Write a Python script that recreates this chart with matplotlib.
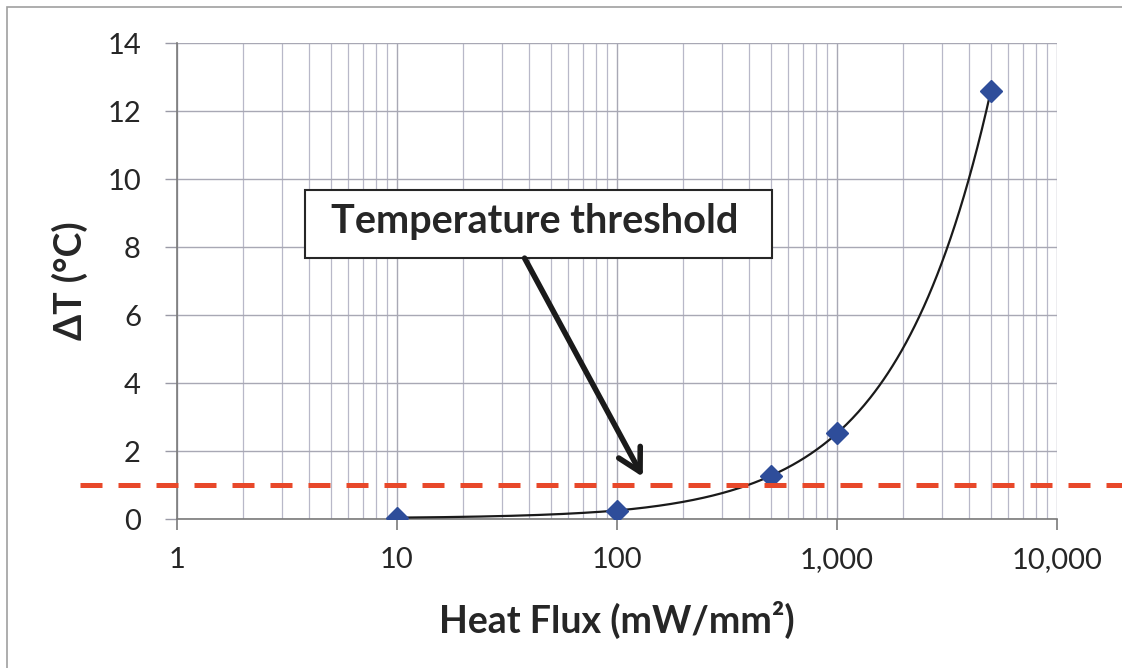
import numpy as np
import matplotlib
matplotlib.use("Agg")
import matplotlib.pyplot as plt
from matplotlib.patches import Rectangle

# Data
heat_flux = [10, 100, 500, 1000, 5000]          # mW/mm^2
delta_t = [0.04, 0.25, 1.27, 2.52, 12.58]        # degC
threshold = 1.0
x_ticks = [1, 10, 100, 1000, 10000]
x_tick_labels = ["1", "10", "100", "1,000", "10,000"]
y_ticks = [0, 2, 4, 6, 8, 10, 12, 14]

plt.rcParams['font.family'] = ['Lato', 'DejaVu Sans']

fig = plt.figure(figsize=(11.22, 6.68), dpi=100)
ax = fig.add_axes([177/1122, 1-519/668, 880/1122, 476/668])

# outer frame
fig.patches.append(Rectangle((7/1122, -0.01), 1.2, 1-7/668+0.01, transform=fig.transFigure,
                             fill=False, edgecolor='#a0a0a0', linewidth=1.2))

ax.set_xscale('log')
ax.set_xlim(1, 10000)
ax.set_ylim(0, 14)

# smooth connecting line (rendered densely between measured points)
xs = np.geomspace(heat_flux[0], heat_flux[-1], 400)
ys = np.interp(xs, heat_flux, delta_t)
ax.plot(xs, ys, color='#1a1a1a', linewidth=1.6, zorder=3)
ax.plot(heat_flux, delta_t, linestyle='none', marker='D', markersize=11,
        color='#2e4d9a', markeredgecolor='#2e4d9a', zorder=4)

# threshold line, extends beyond axes
ax.axhline(threshold, xmin=-0.11, xmax=1.08, color='#e8482a', linewidth=3.6,
           dashes=(4.4, 3.2), clip_on=False, zorder=5)

ax.set_xticks(x_ticks)
ax.set_xticklabels(x_tick_labels)
ax.set_yticks(y_ticks)
ax.xaxis.set_minor_locator(matplotlib.ticker.LogLocator(base=10, subs=np.arange(2, 10)))
ax.xaxis.set_minor_formatter(matplotlib.ticker.NullFormatter())

ax.grid(True, which='major', axis='both', color='#a8a8b4', linewidth=1.0)
ax.grid(True, which='minor', axis='x', color='#b8b8c8', linewidth=0.9)
ax.set_axisbelow(True)

for s in ['top', 'right']:
    ax.spines[s].set_visible(False)
for s in ['left', 'bottom']:
    ax.spines[s].set_color('#7a7a7a')
    ax.spines[s].set_linewidth(1.2)

ax.tick_params(axis='y', which='major', length=9, width=1, color='#9a9aa6', pad=17,
               labelsize=21, labelcolor='#262626')
ax.tick_params(axis='x', which='major', length=8, width=1.2, color='#7a7a7a', pad=12,
               labelsize=21, labelcolor='#262626')
ax.tick_params(axis='x', which='minor', length=0)

ax.set_xlabel('Heat Flux (mW/mm²)', fontsize=27, fontweight='bold', color='#262626', labelpad=20)
ax.set_ylabel('ΔT (°C)', fontsize=27, fontweight='bold', color='#262626', labelpad=14)

# annotation box, label and arrow
ax.add_patch(Rectangle((0.1455, 0.548), 0.5305, 0.143, transform=ax.transAxes,
                       facecolor='white', edgecolor='#262626', linewidth=1.5, zorder=6))
ax.text(0.406, 0.601, 'Temperature threshold', transform=ax.transAxes,
        fontsize=28.5, fontweight='bold', color='#262626', ha='center', va='baseline', zorder=7)
ax.annotate('', xy=(131, 1.24), xytext=(0.395, 0.548), textcoords='axes fraction',
            arrowprops=dict(arrowstyle='->,head_length=1.0,head_width=0.55', color='#1a1a1a',
                            linewidth=4, shrinkA=0, shrinkB=0, mutation_scale=16),
            zorder=6)

fig.savefig('out.png', dpi=100, facecolor='white')
